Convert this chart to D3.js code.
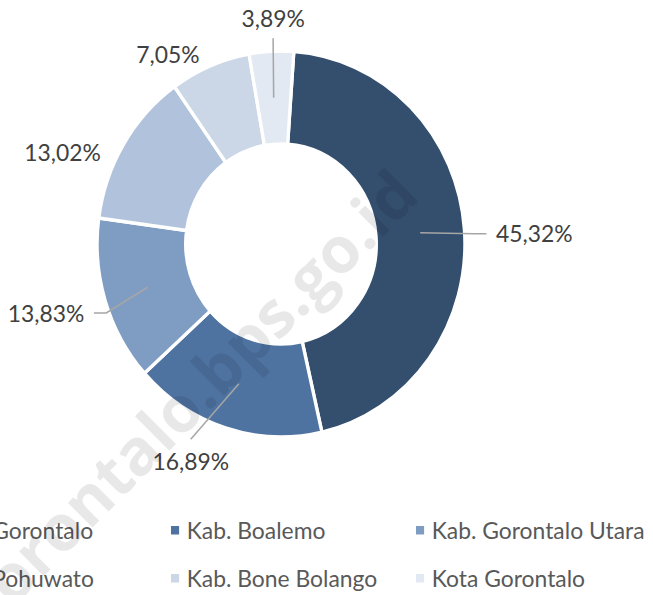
<!DOCTYPE html>
<html lang="id">
<head>
<meta charset="UTF-8">
<title>Donut</title>
<script src="https://d3js.org/d3.v7.min.js"></script>
<style>
  body { margin: 0; background: #fff; }
  svg { display: block; }
</style>
</head>
<body>
<div id="chart"></div>
<script>
const categories = ["Kab. Gorontalo", "Kab. Boalemo", "Kab. Gorontalo Utara",
                    "Kab. Pohuwato", "Kab. Bone Bolango", "Kota Gorontalo"];
const shares = [45.32, 16.89, 13.83, 13.02, 7.05, 3.89];
const colors = ["#344f6e", "#4e73a1", "#7f9dc3", "#b1c3dc", "#cbd7e7", "#e2e9f3"];

const width = 653, height = 595;
const sx = 0.953;               // the picture is squeezed a little sideways
const cx = 281 / sx, cy = 244;
const outerR = 193, innerR = 100;
const firstAngle = 4;           // degrees, rotation of first slice
const font = "Lato, 'Open Sans', sans-serif";

// labels were dragged by hand: angle shift (deg) and distance from centre
const labelPos = [
  { dA: 2.2, r: 266, leader: true },
  { dA: 6, r: 237, leader: true },
  { dA: 1.5, r: 256, leader: true },
  { dA: -9.3, r: 247, leader: false },
  { dA: -9.3, r: 224, leader: false },
  { dA: 0.9, r: 226, leader: true }
];

const svg = d3.select("#chart").append("svg")
  .attr("width", width)
  .attr("height", height);

const root = svg.append("g").attr("transform", `scale(${sx},1)`);
const chart = root.append("g").attr("transform", `translate(${cx},${cy})`);

const rad = Math.PI / 180;
const pie = d3.pie().sort(null).value(d => d)
  .startAngle(firstAngle * rad)
  .endAngle(firstAngle * rad + 2 * Math.PI)(shares);
const arc = d3.arc().innerRadius(innerR).outerRadius(outerR);

chart.selectAll("path.slice")
  .data(pie)
  .join("path")
  .attr("class", "slice")
  .attr("d", arc)
  .attr("fill", (d, i) => colors[i])
  .attr("stroke", "#fff")
  .attr("stroke-width", 3.5);

const polar = (deg, r) => [r * Math.sin(deg * rad), -r * Math.cos(deg * rad)];
const fmt = v => v.toFixed(2).replace(".", ",") + "%";

pie.forEach((d, i) => {
  const mid = (d.startAngle + d.endAngle) / 2 / rad;
  const lp = labelPos[i];
  const ang = mid + lp.dA;
  const [lx, ly] = polar(ang, lp.r);
  const t = chart.append("text")
    .attr("x", lx)
    .attr("y", ly)
    .attr("dy", "0.36em")
    .attr("text-anchor", "middle")
    .style("font-family", font)
    .style("font-size", "24px")
    .attr("fill", "#404040")
    .text(fmt(shares[i]));
  if (!lp.leader) return;
  const w = t.node().getBBox().width;
  const inner = polar(mid, (innerR + outerR) / 2);
  const s = Math.sin(ang * rad), c = Math.cos(ang * rad);
  let pts;
  if (Math.abs(s) > 0.9) {
    const side = Math.sign(s);
    const ax = lx - side * (w / 2 + 10);
    pts = [[ax, ly], [ax - side * 13, ly], inner];
  } else {
    const ay = c < 0 ? ly - 22 : ly + 20;
    pts = [[lx, ay], inner];
  }
  chart.insert("path", "text")
    .attr("d", d3.line()(pts))
    .attr("fill", "none")
    .attr("stroke", "#a6a6a6")
    .attr("stroke-width", 1.6);
});

// legend, three columns, first column partly cut off by the crop
const legX0 = -74 / sx, legColW = 245 / sx, legY0 = 530, legRowH = 48;
const leg = root.selectAll("g.leg")
  .data(categories)
  .join("g")
  .attr("class", "leg")
  .attr("transform", (d, i) =>
    `translate(${legX0 + (i % 3) * legColW},${legY0 + Math.floor(i / 3) * legRowH})`);

leg.append("rect")
  .attr("x", 0).attr("y", -4)
  .attr("width", 8.5).attr("height", 8.5)
  .attr("fill", (d, i) => colors[i]);

leg.append("text")
  .attr("x", 16.5)
  .attr("y", 9)
  .style("font-family", font)
  .style("font-size", "24px")
  .attr("fill", "#595959")
  .text(d => d);

// watermark
svg.append("text")
  .attr("transform", "translate(422,198) rotate(-45)")
  .attr("text-anchor", "end")
  .style("font-family", "'Open Sans', sans-serif")
  .style("font-weight", "bold")
  .style("font-size", "64px")
  .attr("fill", "#000")
  .attr("fill-opacity", 0.09)
  .text("gorontalo.bps.go.id");
</script>
</body>
</html>
